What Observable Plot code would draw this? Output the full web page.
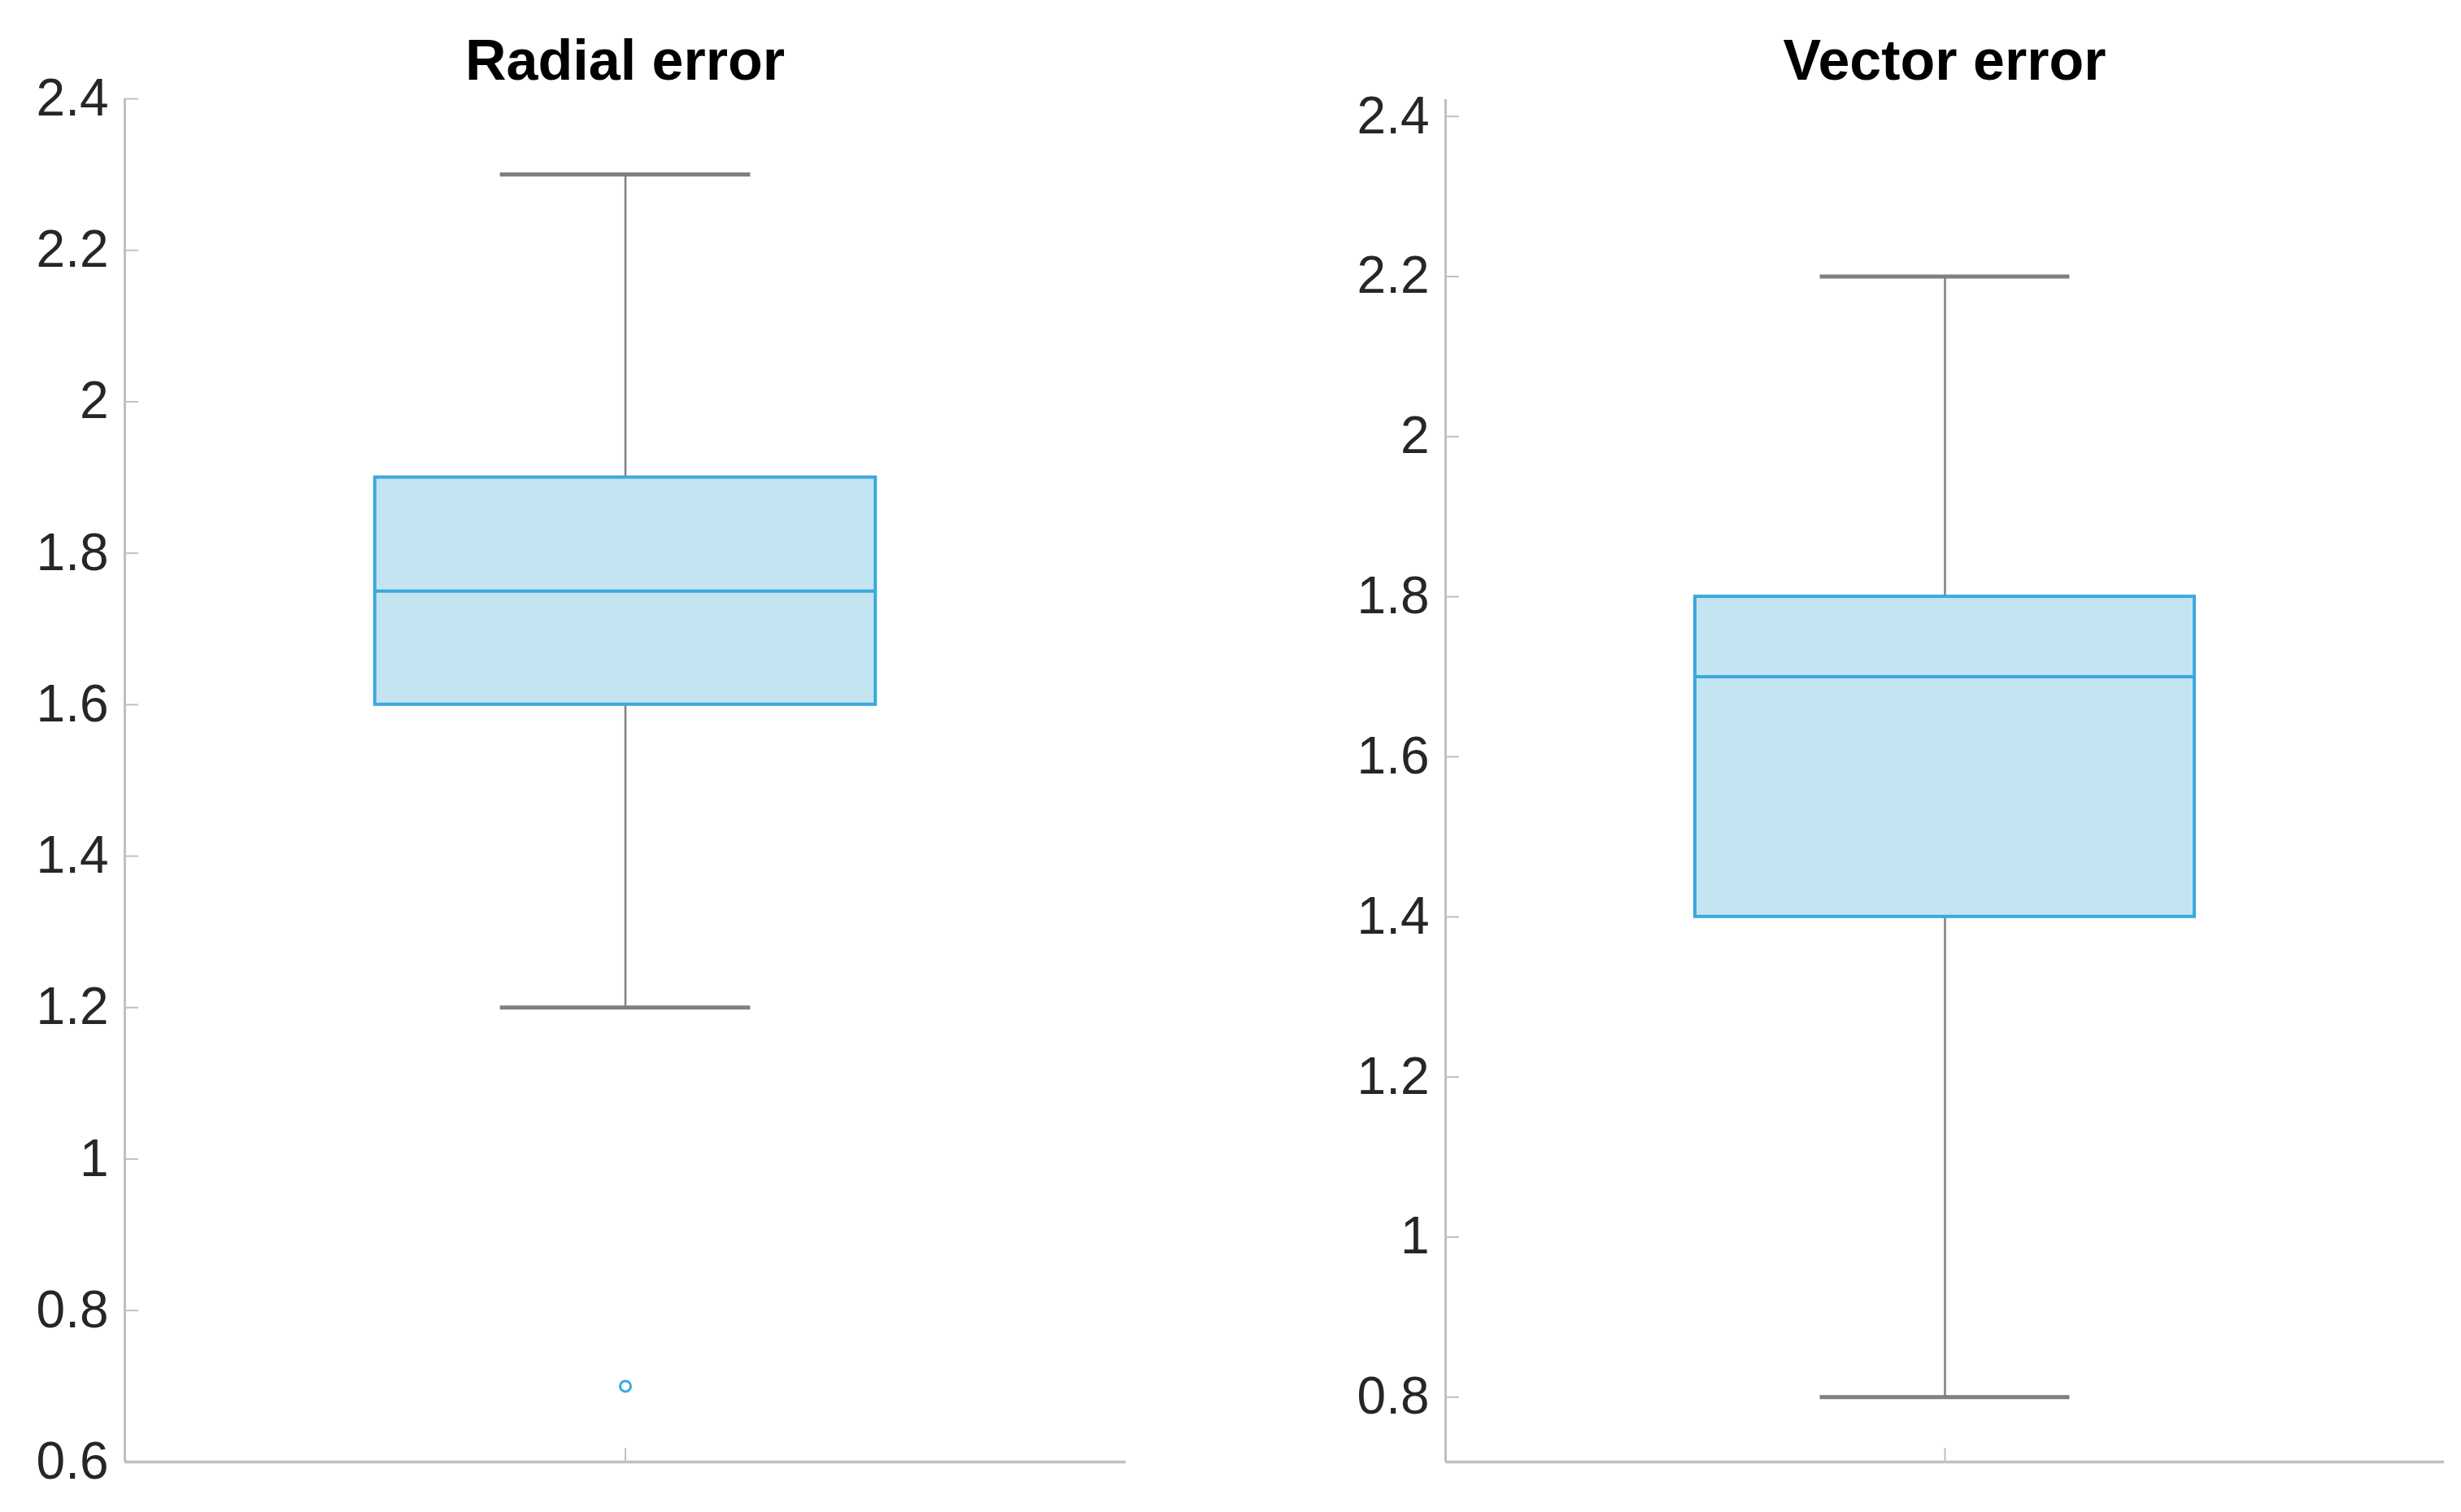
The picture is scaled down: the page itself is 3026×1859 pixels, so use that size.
<!DOCTYPE html>
<html>
<head>
<meta charset="utf-8">
<script src="https://cdn.jsdelivr.net/npm/d3@7"></script>
<script src="https://cdn.jsdelivr.net/npm/@observablehq/plot@0.6"></script>
<style>
  html, body { margin: 0; padding: 0; background: #fff; }
  #wrap { position: relative; width: 3026px; height: 1859px; overflow: hidden; background: #fff; }
  .title { position: absolute; top: 36px; font-family: "Liberation Sans", Arial, Helvetica, sans-serif; font-weight: bold; font-size: 70px; line-height: 76px; color: #000; text-align: center; }
  .panel { position: absolute; top: 0; }
</style>
</head>
<body>
<div id="wrap"></div>
<script>
// ---- data ----
const titles = ["Radial error", "Vector error"];
const whiskerLow  = [1.2, 0.8];
const q1          = [1.6, 1.4];
const median      = [1.75, 1.7];
const q3          = [1.9, 1.8];
const whiskerHigh = [2.3, 2.2];
const outliers    = [[0.7], []];
const yDomains    = [[0.6, 2.4], [0.719, 2.421]];
const yTicks      = [[0.6, 0.8, 1, 1.2, 1.4, 1.6, 1.8, 2, 2.2, 2.4],
                     [0.8, 1, 1.2, 1.4, 1.6, 1.8, 2, 2.2, 2.4]];

// ---- layout / style ----
const panels = [
  {left: 0,    width: 1400, marginLeft: 153, marginRight: 16, marginTop: 121, marginBottom: 62},
  {left: 1620, width: 1406, marginLeft: 157, marginRight: 21, marginTop: 122, marginBottom: 62}
];
const boxFill = "rgb(196,228,241)";
const boxStroke = "rgb(58,169,220)";
const whiskerColor = "rgb(128,128,128)";
const axisColor = "rgb(192,192,192)";
const textColor = "#262626";
const fontFamily = "'Liberation Sans', Arial, Helvetica, sans-serif";

const wrap = document.getElementById("wrap");

titles.forEach((t, i) => {
  const p = panels[i];
  const pos = i + 1;                // category position on x
  const row = [{pos, lo: whiskerLow[i], q1: q1[i], med: median[i], q3: q3[i], hi: whiskerHigh[i]}];
  const outs = outliers[i].map(v => ({pos, v}));
  const [y0, y1] = yDomains[i];

  const chart = Plot.plot({
    width: p.width,
    height: 1859,
    marginLeft: p.marginLeft,
    marginRight: p.marginRight,
    marginTop: p.marginTop,
    marginBottom: p.marginBottom,
    style: {fontFamily, fontSize: "64px", color: textColor, background: "transparent", overflow: "visible"},
    x: {domain: [pos - 0.5, pos + 0.5], axis: null, label: null},
    y: {domain: [y0, y1], axis: null, label: null},
    marks: [
      // axis lines
      Plot.ruleX([pos - 0.5], {y1: y0, y2: y1, stroke: axisColor, strokeWidth: 3}),
      Plot.ruleY([y0], {x1: pos - 0.5, x2: pos + 0.5, stroke: axisColor, strokeWidth: 3.5}),
      // y tick marks (inward) and labels
      Plot.axisY(yTicks[i], {anchor: "left", tickSize: -17, text: null, label: null, stroke: axisColor, strokeWidth: 2}),
      Plot.axisY(yTicks[i], {anchor: "left", tickSize: 0, tickPadding: 20, label: null, fontSize: 64, fill: textColor,
        tickFormat: d => String(+d.toFixed(1))}),
      // x tick mark (inward), no label
      Plot.axisX([pos], {anchor: "bottom", tickSize: -17, text: null, label: null, stroke: axisColor, strokeWidth: 2}),
      // whiskers
      Plot.ruleX(row, {x: "pos", y1: "lo", y2: "q1", stroke: whiskerColor, strokeWidth: 2.5}),
      Plot.ruleX(row, {x: "pos", y1: "q3", y2: "hi", stroke: whiskerColor, strokeWidth: 2.5}),
      Plot.ruleY(row, {y: "lo", x1: d => d.pos - 0.125, x2: d => d.pos + 0.125, stroke: whiskerColor, strokeWidth: 5}),
      Plot.ruleY(row, {y: "hi", x1: d => d.pos - 0.125, x2: d => d.pos + 0.125, stroke: whiskerColor, strokeWidth: 5}),
      // box
      Plot.rect(row, {x1: d => d.pos - 0.25, x2: d => d.pos + 0.25, y1: "q1", y2: "q3",
        fill: boxFill, stroke: boxStroke, strokeWidth: 4}),
      // median
      Plot.ruleY(row, {y: "med", x1: d => d.pos - 0.25, x2: d => d.pos + 0.25, stroke: boxStroke, strokeWidth: 4}),
      // outliers
      Plot.dot(outs, {x: "pos", y: "v", r: 6.5, stroke: boxStroke, strokeWidth: 3, fill: "none"})
    ]
  });
  chart.classList.add("panel");
  chart.style.left = p.left + "px";
  wrap.appendChild(chart);

  const title = document.createElement("div");
  title.className = "title";
  title.textContent = t;
  title.style.left = (p.left + p.marginLeft) + "px";
  title.style.width = (p.width - p.marginLeft - p.marginRight) + "px";
  wrap.appendChild(title);
});
</script>
</body>
</html>
